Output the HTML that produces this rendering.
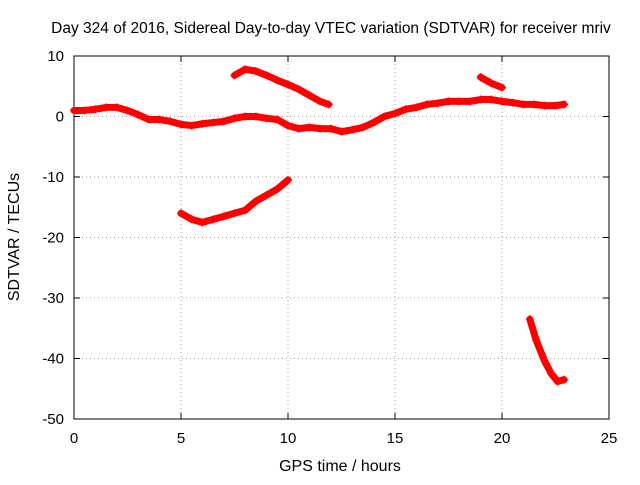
<!DOCTYPE html>
<html><head><meta charset="utf-8"><style>
body{margin:0;background:#fff;}
svg{font-family:"Liberation Sans",sans-serif;font-size:15px;}
</style></head><body>
<svg id="chart" width="640" height="480" xmlns="http://www.w3.org/2000/svg">
<rect width="640" height="480" fill="#fff"/>
<text x="331" y="33" text-anchor="middle" style="font-size:15.5px">Day 324 of 2016, Sidereal Day-to-day VTEC variation (SDTVAR) for receiver mriv</text>
<g id="grid"></g>
<g id="axes"></g>
<g id="series"></g>
<text x="340" y="471" text-anchor="middle" style="font-size:16px">GPS time / hours</text>
<text transform="translate(19,237) rotate(-90)" text-anchor="middle" style="font-size:16px">SDTVAR / TECUs</text>
</svg>
<script>
const xTicks=[0,5,10,15,20,25];
const yTicks=[10,0,-10,-20,-30,-40,-50];
const seg1X=[0,0.5,1,1.5,2,2.5,3,3.5,4,4.5,5,5.5,6,6.5,7,7.5,8,8.5,9,9.5,10,10.5,11,11.5,12,12.5,13,13.5,14,14.5,15,15.5,16,16.5,17,17.5,18,18.5,19,19.5,20,20.5,21,21.5,22,22.5,22.9];
const seg1Y=[1,1,1.2,1.5,1.5,1,0.3,-0.5,-0.5,-0.8,-1.3,-1.5,-1.2,-1,-0.8,-0.3,0,0,-0.3,-0.5,-1.5,-2,-1.8,-2,-2,-2.5,-2.2,-1.8,-1,0,0.5,1.2,1.5,2,2.2,2.5,2.5,2.5,2.8,2.8,2.5,2.3,2,2,1.8,1.8,2];
const seg2X=[7.5,8,8.5,9,9.5,10,10.5,11,11.5,11.9];
const seg2Y=[6.8,7.8,7.5,6.8,6,5.3,4.5,3.5,2.5,2];
const seg3X=[5,5.5,6,6.5,7,7.5,8,8.5,9,9.5,10];
const seg3Y=[-16,-17,-17.5,-17,-16.5,-16,-15.5,-14,-13,-12,-10.5];
const seg4X=[19,19.5,20];
const seg4Y=[6.5,5.5,4.8];
const seg5X=[21.3,21.6,22,22.3,22.6,22.9];
const seg5Y=[-33.5,-37,-40.5,-42.5,-43.8,-43.5];
const L=74,R=609,T=56,B=419;
const sx=v=>L+(v-0)/(25-0)*(R-L);
const sy=v=>T+(10-v)/(10+50)*(B-T);
const NS="http://www.w3.org/2000/svg";
function mk(t,a,p){const e=document.createElementNS(NS,t);for(const k in a)e.setAttribute(k,a[k]);p.appendChild(e);return e;}
const grid=document.getElementById('grid'),axes=document.getElementById('axes'),ser=document.getElementById('series');
xTicks.forEach(v=>{const x=sx(v);
 if(v>0&&v<25){const g=mk('line',{x1:x,x2:x,y1:T,y2:B,stroke:'#a0a0a0','stroke-dasharray':'1,3'},grid);}
 mk('line',{x1:x,x2:x,y1:B,y2:B-6,stroke:'#000'},axes);mk('line',{x1:x,x2:x,y1:T,y2:T+6,stroke:'#000'},axes);
 const t=mk('text',{x:x,y:B+24,'text-anchor':'middle'},axes);t.textContent=v;
 });
yTicks.forEach(v=>{const y=sy(v);
 if(v<10&&v>-50){const g=mk('line',{x1:L,x2:R,y1:y,y2:y,stroke:'#a0a0a0','stroke-dasharray':'1,3'},grid);}
 mk('line',{x1:L,x2:L+6,y1:y,y2:y,stroke:'#000'},axes);mk('line',{x1:R,x2:R-6,y1:y,y2:y,stroke:'#000'},axes);
 const t=mk('text',{x:L-10,y:y+5,'text-anchor':'end'},axes);t.textContent=v;
 });
mk('rect',{x:L,y:T,width:R-L,height:B-T,fill:'none',stroke:'#000'},axes);
[[seg1X,seg1Y],[seg2X,seg2Y],[seg3X,seg3Y],[seg4X,seg4Y],[seg5X,seg5Y]].forEach((s,i)=>{
 const pts=s[0].map((x,j)=>sx(x)+','+sy(s[1][j])).join(' ');
 const pl=mk('polyline',{points:pts,fill:'none',stroke:'#f00','stroke-width':7,'stroke-linejoin':'round','stroke-linecap':'round'},ser);
 
 
 s[0].forEach((x,j)=>{const px=sx(x),py=sy(s[1][j]);
  const p=mk('path',{d:`M${px-4},${py}H${px+4}M${px},${py-4}V${py+4}`,stroke:'#f00','stroke-width':1.2},ser);
  
  });
});
</script>
</body></html>
